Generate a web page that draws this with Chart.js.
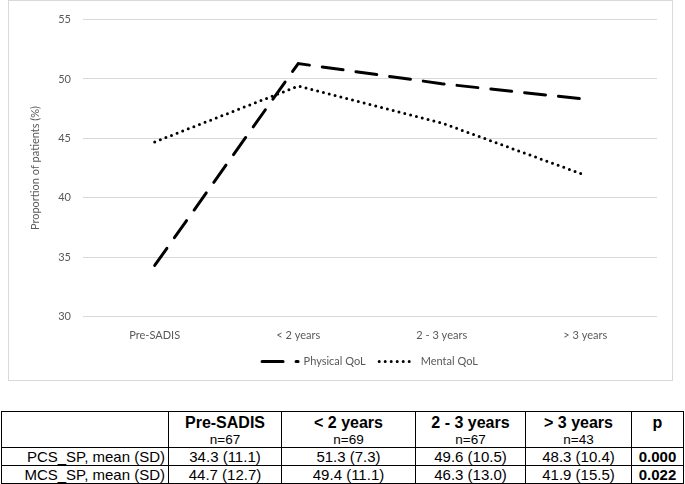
<!DOCTYPE html>
<html>
<head>
<meta charset="utf-8">
<script src="https://cdn.jsdelivr.net/npm/chart.js@4"></script>
<style>
  body { margin: 0; background: #fff; width: 685px; height: 484px; position: relative; overflow: hidden; }
  #box { position: absolute; left: 8px; top: 0; width: 665px; height: 381px; border: 1px solid #d9d9d9; box-sizing: border-box; }
  #chart { display: block; }
  table { position: absolute; left: 1px; top: 411px; border-collapse: collapse; font-family: "Liberation Sans", Arial, sans-serif; color: #000; }
  td { border: 1px solid #000; padding: 0; text-align: center; font-size: 15px; line-height: 17px; height: 17px; }
  td.lab { text-align: right; padding-right: 3px; }
  tr.head td { height: 35px; vertical-align: top; }
  .big { font-weight: bold; font-size: 16px; line-height: 19px; display: block; margin-top: 1px; }
  .n { font-size: 13.5px; line-height: 15px; display: block; }
  b { font-weight: bold; }
</style>
</head>
<body>
<div id="box"><canvas id="chart" width="663" height="379"></canvas></div>
<table>
  <colgroup><col style="width:167px"><col style="width:113px"><col style="width:134px"><col style="width:110px"><col style="width:106px"><col style="width:52px"></colgroup>
  <tr class="head">
    <td></td>
    <td><span class="big">Pre-SADIS</span><span class="n">n=67</span></td>
    <td><span class="big">&lt; 2 years</span><span class="n">n=69</span></td>
    <td><span class="big">2 - 3 years</span><span class="n">n=67</span></td>
    <td><span class="big">&gt; 3 years</span><span class="n">n=43</span></td>
    <td><span class="big">p</span></td>
  </tr>
  <tr>
    <td class="lab">PCS_SP, mean (SD)</td>
    <td>34.3 (11.1)</td><td>51.3 (7.3)</td><td>49.6 (10.5)</td><td>48.3 (10.4)</td><td><b>0.000</b></td>
  </tr>
  <tr>
    <td class="lab">MCS_SP, mean (SD)</td>
    <td>44.7 (12.7)</td><td>49.4 (11.1)</td><td>46.3 (13.0)</td><td>41.9 (15.5)</td><td><b>0.022</b></td>
  </tr>
</table>
<script>
const categories = ['Pre-SADIS', '< 2 years', '2 - 3 years', '> 3 years'];
const physicalQoL = [34.3, 51.3, 49.6, 48.3];
const mentalQoL = [44.7, 49.4, 46.3, 41.9];
const yTitle = 'Proportion of patients (%)';

const grey = '#595959';
const font = { family: 'Lato', size: 11 };

new Chart(document.getElementById('chart'), {
    type: 'line',
    data: {
        labels: categories,
        datasets: [
            {
                label: 'Physical QoL',
                data: physicalQoL,
                borderColor: '#000',
                backgroundColor: '#000',
                borderWidth: 3,
                borderDash: [21, 13],
                borderCapStyle: 'round',
                pointRadius: 0,
                tension: 0
            },
            {
                label: 'Mental QoL',
                data: mentalQoL,
                borderColor: '#000',
                backgroundColor: '#000',
                borderWidth: 3,
                borderDash: [0, 6],
                borderCapStyle: 'round',
                pointRadius: 0,
                tension: 0
            }
        ]
    },
    options: {
        responsive: false,
        animation: false,
        devicePixelRatio: 1,
        layout: { padding: { left: 16, right: 15, top: 9, bottom: 3 } },
        plugins: {
            tooltip: { enabled: false },
            legend: {
                position: 'bottom',
                fullSize: false,
                labels: {
                    usePointStyle: true,
                    pointStyle: 'line',
                    pointStyleWidth: 36,
                    padding: 13.5,
                    color: grey,
                    font: font,
                    // line samples need the dataset's own dash, not the point style
                    generateLabels: chart => chart.data.datasets.map((ds, i) => ({
                        text: ds.label,
                        datasetIndex: i,
                        fillStyle: ds.borderColor,
                        strokeStyle: ds.borderColor,
                        lineWidth: ds.borderWidth,
                        lineDash: ds.borderDash,
                        lineCap: ds.borderCapStyle,
                        pointStyle: 'line',
                        fontColor: grey
                    }))
                }
            }
        },
        scales: {
            x: {
                offset: true,
                grid: { display: false, drawTicks: false },
                border: { display: false },
                ticks: { color: grey, font: font, padding: 12 },
                afterFit: s => { s.height = 26; }
            },
            y: {
                min: 30,
                max: 55,
                grid: { color: '#d9d9d9', drawTicks: false },
                border: { display: false },
                ticks: { stepSize: 5, color: grey, font: font, padding: 12 },
                title: { display: true, text: yTitle, color: grey, font: font }
            }
        }
    }
});
</script>
</body>
</html>
